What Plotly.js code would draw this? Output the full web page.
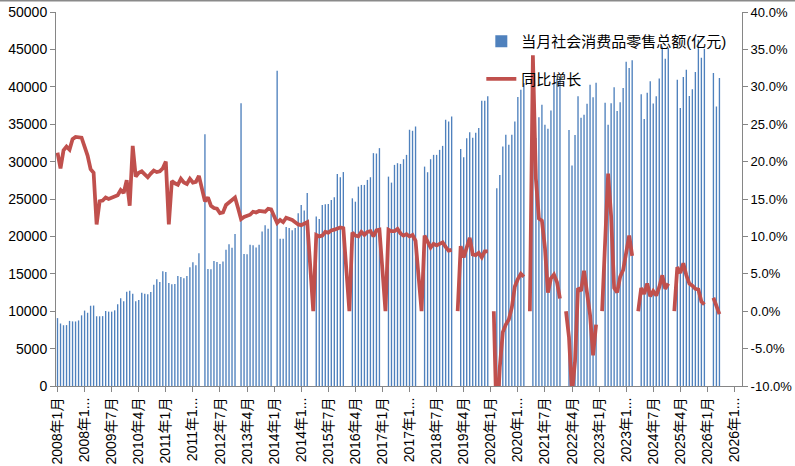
<!DOCTYPE html>
<html><head><meta charset="utf-8">
<script src="https://cdn.plot.ly/plotly-3.0.1.min.js"></script>
<style>html,body{margin:0;padding:0;background:#fff}#chart{width:795px;height:466px}</style>
</head><body><div id="chart"></div>
<script>
const startYear = 2008, endYear = 2026;
const barName = '当月社会消费品零售总额(亿元)';
const lineName = '同比增长';
// monthly retail sales (亿元), one row per year, Jan..Dec
const sales = [
  9077, 8355, 8123, 8142, 8704, 8642, 8629, 8768, 9447, 10083, 9791, 10729,
  10757, 9324, 9318, 9343, 10028, 9942, 9937, 10116, 10913, 11718, 11339, 12610,
  12718, 12334, 11322, 11510, 12455, 12330, 12253, 12570, 13537, 14285, 13911, 15329,
  15249, 13769, 13588, 13649, 14697, 14565, 14408, 14705, 15865, 16546, 16128, 17740,
  null, 33669, 15650, 15603, 16715, 16584, 16315, 16659, 18227, 18934, 18477, 20334,
  null, 37800, 17640, 17600, 18886, 18827, 18513, 18886, 20653, 21491, 21012, 23060,
  null, 42136, 19701, 19698, 21250, 21129, 20830, 21131, 23087, 24189, 23474, 25801,
  null, null, 22650, 22340, 24196, 24300, 24330, 24870, 25230, 28350, 27910, 28600,
  null, null, 25090, 24640, 26650, 26880, 26880, 27550, 27910, 31130, 31080, 31800,
  null, null, 27990, 27190, 29560, 29790, 29690, 30320, 30900, 34250, 34120, 34690,
  null, null, 29330, 28580, 30320, 30900, 30900, 31570, 32100, 35590, 35370, 36030,
  null, null, 31700, 30590, 33130, 33940, 33180, 33850, 34480, 38140, 38140, 38720,
  null, null, 26430, 28220, 32010, 33580, 32240, 33580, 35370, 38630, 39610, 40500,
  null, null, 35484, 33153, 35945, 37586, 34925, 34395, 36833, 40454, 41043, 41269,
  null, null, 34233, 29483, 33547, 38742, 35870, 36258, 37745, 40271, 38615, 40542,
  null, null, 37855, 34910, 37803, 39951, 36761, 37933, 39826, 43333, 42505, 43550,
  null, null, 39020, 35699, 39211, 40732, 37757, 38726, 41112, 45396, 43763, 45172,
  null, null, 40940, 37174, 41326, 42287, 38780, 39668, 41971, 46291, 43898, 45100,
  null, null, 41850, 37370, 41180, null, null, null, null, null, null, null
];
// year-on-year growth (%), one row per year, Jan..Dec
const growth = [
  21.2, 19.1, 21.5, 22.0, 21.6, 23.0, 23.3, 23.2, 23.2, 22.0, 20.8, 19.0,
  18.5, 11.6, 14.7, 14.8, 15.2, 15.0, 15.2, 15.4, 15.5, 16.2, 15.8, 17.5,
  14.1, 22.1, 18.0, 18.5, 18.7, 18.3, 17.9, 18.4, 18.8, 18.6, 18.7, 19.1,
  20.0, 11.6, 17.4, 17.1, 16.9, 17.7, 17.2, 17.0, 17.7, 17.2, 17.3, 18.1,
  16.5, 14.7, 15.2, 14.1, 13.8, 13.7, 13.1, 13.2, 14.2, 14.5, 14.9, 15.2,
  13.8, 12.3, 12.6, 12.8, 12.9, 13.3, 13.2, 13.4, 13.3, 13.3, 13.7, 13.6,
  12.7, 11.8, 12.2, 11.9, 12.5, 12.4, 12.2, 11.9, 11.6, 11.5, 11.7, 11.9,
  6.0, 0, 10.2, 10.0, 10.1, 10.6, 10.5, 10.8, 10.9, 11.0, 11.2, 11.1,
  5.5, 0, 10.5, 10.1, 10.0, 10.6, 10.2, 10.6, 10.7, 10.0, 10.8, 10.9,
  5.5, 0, 10.9, 10.7, 10.7, 11.0, 10.4, 10.1, 10.3, 10.0, 10.2, 9.4,
  4.7, 0, 10.1, 9.4, 8.5, 9.0, 8.8, 9.0, 9.2, 8.6, 8.1, 8.2,
  null, 0, 8.7, 7.2, 8.6, 9.8, 7.6, 7.5, 7.8, 7.2, 8.0, 8.0,
  null, 0, -15.8, -7.5, -2.8, -1.8, -1.1, 0.5, 3.3, 4.3, 5.0, 4.6,
  null, 0, 34.2, 17.7, 12.4, 12.1, 8.5, 2.5, 4.4, 4.9, 3.9, 1.7,
  null, 0, -3.5, -11.1, -6.7, 3.1, 2.7, 5.4, 2.5, -0.5, -5.9, -1.8,
  null, 0, 10.6, 18.4, 12.7, 3.1, 2.5, 4.6, 5.5, 7.6, 10.1, 7.4,
  null, 0, 3.1, 2.3, 3.7, 2.0, 2.7, 2.1, 3.2, 4.8, 3.0, 3.7,
  null, 0, 5.9, 5.1, 6.4, 4.8, 3.7, 3.4, 3.0, 2.9, 1.3, 0.9,
  null, null, 1.8, 0.8, -0.4, null, null, null, null, null, null, null
];
const leftTicks = [0, 5000, 10000, 15000, 20000, 25000, 30000, 35000, 40000, 45000, 50000];
const leftLabels = leftTicks.map(v => String(v));
const rightTicks = [-10, -5, 0, 5, 10, 15, 20, 25, 30, 35, 40];
const rightLabels = rightTicks.map(v => v.toFixed(1) + '%');

const months = [];
for (let y = startYear; y <= endYear; y++) for (let m = 1; m <= 12; m++) months.push(y + '年' + m + '月');
const tickVals = months.filter((_, i) => i % 9 === 0);
const tickText = tickVals.map(s => s.length > 7 ? s.slice(0, 6) + '...' : s);

const FONT = 'Liberation Sans, "Noto Sans CJK SC", sans-serif';
const axisColor = '#868686';

const traces = [
  {type: 'bar', name: barName, x: months, y: sales, marker: {color: '#4F81BD'},
   legendgroup: 'a', hoverinfo: 'x+y'},
  {type: 'scatter', mode: 'lines', name: lineName, x: months, y: growth, yaxis: 'y2',
   line: {color: '#C0504D', width: 3.75}, connectgaps: false, legendgroup: 'b'}
];

const layout = {
  width: 795, height: 466,
  margin: {l: 56, r: 53, t: 12, b: 80},
  paper_bgcolor: '#fff', plot_bgcolor: '#fff',
  font: {family: FONT, color: '#000', size: 14},
  bargap: 0.55,
  showlegend: true,
  legend: {x: 0.62, y: 0.965, xanchor: 'left', yanchor: 'top', bgcolor: 'rgba(0,0,0,0)',
           font: {size: 15, family: FONT}, tracegroupgap: 15, traceorder: 'grouped'},
  xaxis: {type: 'category', categoryorder: 'array', categoryarray: months,
          range: [-0.5, months.length - 0.5],
          tickmode: 'array', tickvals: tickVals, ticktext: tickText, tickangle: -90,
          ticks: 'outside', ticklen: 5, tickcolor: axisColor, showline: true, linecolor: axisColor,
          showgrid: false, tickfont: {size: 14}},
  yaxis: {range: [0, 50000], tickmode: 'array', tickvals: leftTicks, ticktext: leftLabels,
          ticks: 'outside', ticklen: 5,
          tickcolor: axisColor, showline: true, linecolor: axisColor, showgrid: false, zeroline: false,
          tickfont: {size: 14}},
  yaxis2: {overlaying: 'y', side: 'right', range: [-10, 40], tickmode: 'array', tickvals: rightTicks,
           ticktext: rightLabels, ticks: 'outside', ticklen: 5, tickcolor: axisColor, showline: true,
           linecolor: axisColor, showgrid: false, zeroline: false, tickfont: {size: 13}},
  shapes: [{type: 'line', xref: 'paper', yref: 'paper', x0: -0.09, x1: 1.08, y0: 1.03, y1: 1.03,
            line: {color: '#8a8a8a', width: 1.5}}]
};
Plotly.newPlot('chart', traces, layout, {staticPlot: true, displayModeBar: false});
</script></body></html>
